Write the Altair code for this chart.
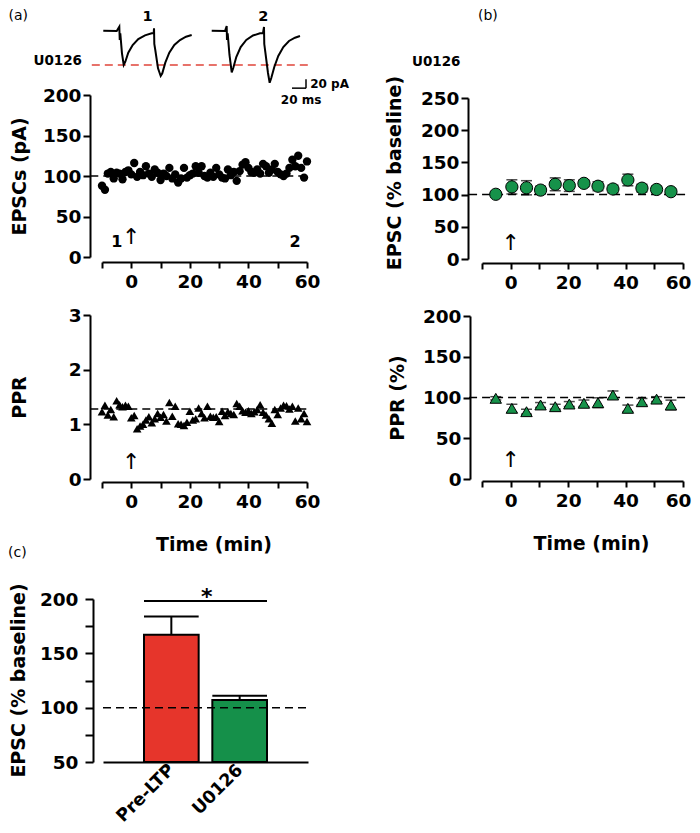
import altair as alt
import pandas as pd

FONT = "DejaVu Sans"

# ---------------- data ----------------
# (a) upper: EPSC amplitude of single sweeps (pA)
a_time = [-10, -9, -8, -7, -6, -5, -4, -3, -2, -1, 0, 1, 2, 3, 4, 5, 6, 7, 8, 9, 10,
          11, 12, 13, 14, 15, 16, 17, 18, 19, 20, 21, 22, 23, 24, 25, 26, 27, 28, 29, 30,
          31, 32, 33, 34, 35, 36, 37, 38, 39, 40, 41, 42, 43, 44, 45, 46, 47, 48, 49, 50,
          51, 52, 53, 54, 55, 56, 57, 58, 59, 60]
a_epsc = [88, 83, 103, 105, 97, 104, 103, 96, 105, 107, 102, 116, 99, 105, 101, 112, 103, 99, 108, 104, 95,
          103, 100, 110, 97, 102, 92, 97, 110, 98, 101, 103, 112, 104, 112, 100, 98, 104, 99, 110, 102,
          98, 97, 108, 101, 105, 94, 106, 114, 117, 110, 105, 104, 108, 103, 115, 112, 104, 108, 115, 105,
          102, 100, 103, 110, 120, 112, 125, 110, 98, 118]
# (a) lower: paired-pulse ratio of single sweeps
a_ppr = [1.23, 1.35, 1.17, 1.27, 1.14, 1.43, 1.36, 1.32, 1.35, 1.33, 1.12, 1.16, 0.92, 0.97, 1.00, 1.08, 1.14, 1.03, 1.10, 1.20, 1.13,
         1.18, 1.06, 1.40, 1.15, 1.33, 1.01, 1.00, 0.98, 1.04, 1.24, 1.08, 1.10, 1.30, 1.20, 1.12, 1.33, 1.15, 1.13, 1.14, 1.05,
         1.24, 1.16, 1.23, 1.20, 1.18, 1.38, 1.33, 1.25, 1.22, 1.25, 1.20, 1.23, 1.27, 1.36, 1.22, 1.17, 1.10, 1.02, 1.27, 1.18,
         1.30, 1.35, 1.34, 1.28, 1.33, 1.06, 1.30, 1.10, 1.20, 1.05]
a_epsc_base = 100
a_ppr_base = 1.28

# example traces (time in ms, current in pA)
trace1_t = [0.4, 19.6, 23.3, 23.9, 24.7, 27.1, 29.6, 31.9, 36.1, 42.4, 50.4, 60.0, 69.6, 72.4, 72.9, 73.3,
            74.7, 78.6, 82.4, 84.7, 89.0, 94.7, 101.9, 110.0, 118.6, 126.7]
trace1_i = [0.7, 0, 9.6, -20, -5.1, -49.6, -75.5, -68.2, -48.2, -31.1, -17.8, -9.6, -5.1, -4.4, 6, -28.9,
            -42.2, -82.9, -100, -94, -70.4, -48.2, -31.1, -20, -12.7, -8.9]
trace2_t = [155.3, 174.3, 176.7, 177.1, 178.1, 180.7, 183.9, 186.1, 190.4, 196.7, 204.7, 214.3, 224.3, 228.6,
            230.0, 230.4, 231.9, 235.7, 238.1, 240.4, 244.7, 250.4, 257.6, 265.7, 274.3, 281.4]
trace2_i = [0.7, 0, 11, -20, -5.1, -53.3, -91.8, -82.2, -57.8, -35.6, -20, -10, -5.1, -4.4,
            8.9, -28.9, -46.7, -93.3, -114.9, -104.4, -80, -55.6, -35.6, -22.2, -14.9, -11.1]
trace_ref_level = -75.5      # red dashed reference (pA)
scalebar_ms = 20
scalebar_pa = 20

# (b) averaged time courses
b_time = [-5.2, 0.4, 5.5, 10.4, 15.5, 20.4, 25.5, 30.4, 35.6, 40.8, 45.7, 50.8, 55.8]
b_epsc = [100.5, 112, 110.6, 107, 116, 114, 117.5, 113, 108.7, 122.7, 110, 108, 104.5]
b_epsc_err = [2, 11, 11, 6, 10, 9, 5, 7, 6, 9, 6, 5, 4]
b_ppr = [99, 86.7, 82.6, 90.8, 88.7, 92, 92.9, 93.6, 103, 86.7, 94.8, 98, 90.8]
b_ppr_err = [2, 5, 3, 3, 3, 3, 4, 6, 5, 4, 4, 3, 6]

# (c) summary bars
c_groups = ["Pre-LTP", "U0126"]
c_pos = [1, 2]
c_mean = [167, 107]
c_sem = [17, 4]
c_colors = ["#e6352b", "#15904a"]

GREEN = "#16924a"
PCT_TITLE = "EPSC (% baseline)"

# ---------------- layout ----------------
W, H = 684, 817
M = 8  # page margin (page coordinates -> chart coordinates)


def S(domain, rng):
    return alt.Scale(domain=domain, range=rng, nice=False, zero=False)


tr_x, tr_y = S([0, 300], [95, 305]), S([-150, 50], [90.5, 0.5])
a1_x, a1_y = S([-10, 60], [94, 299]), S([0, 200], [249, 87])
a2_x, a2_y = S([-10, 60], [94, 299]), S([0, 3], [471, 307])
b1_x, b1_y = S([-10, 60], [474, 675]), S([0, 250], [251, 90])
b2_x, b2_y = S([-10, 60], [474, 675]), S([0, 200], [471, 308])
c_x, c_y = S([0, 3], [95, 300]), S([50, 200], [754, 591])

TIME_TICKS = [-10, 0, 10, 20, 30, 40, 50, 60]
EVEN20 = "datum.value % 20 == 0 ? datum.label : ''"


def xaxis(axis_y, title=None, title_page_x=0, flush=False):
    kw = dict(orient="bottom", offset=axis_y - H, values=TIME_TICKS, labelExpr=EVEN20,
              tickSize=6, labelPadding=4, title=title)
    if flush:
        kw.update(labelFlush=True, labelFlushOffset=8)
    if title:
        kw.update(titleX=title_page_x - M, titleY=62, titleBaseline="middle", titleAlign="center",
                  titleAngle=0, titleLimit=300)
    return alt.Axis(**kw)


def yaxis(axis_x, values, title=None, title_page_x=0, tick=7, pad=2, expr=None):
    kw = dict(orient="left", offset=-axis_x, values=values, title=title, tickSize=tick, labelPadding=pad)
    if title:
        kw.update(titleX=title_page_x - M - axis_x, titleBaseline="middle", titleAlign="center",
                  titleAngle=270, titleLimit=400)
    if expr:
        kw["labelExpr"] = expr
    return alt.Axis(**kw)


class Panel:
    """Scales and axes shared by every layer of one panel."""

    def __init__(self, sx, sy, ax=None, ay=None):
        self.sx, self.sy, self.ax, self.ay = sx, sy, ax, ay

    def X(self, f):
        return alt.X(f, type="quantitative", scale=self.sx, axis=self.ax)

    def Y(self, f):
        return alt.Y(f, type="quantitative", scale=self.sy, axis=self.ay)

    def text(self, df, size=16, weight="bold", align="center", baseline="middle", color="black", angle=0):
        return alt.Chart(df).mark_text(font=FONT, fontSize=size, fontWeight=weight, align=align,
                                       baseline=baseline, color=color, angle=angle, limit=0).encode(
            x=self.X("x"), y=self.Y("y"), text="s:N")

    def hline(self, df, dash=(8, 5), width=1.5, color="black"):
        return alt.Chart(df).mark_rule(strokeDash=list(dash), strokeWidth=width, color=color).encode(
            x=self.X("x0"), x2="x1:Q", y=self.Y("y"))

    def errors(self, df, lo, hi):
        bars = alt.Chart(df).mark_rule(color="black", strokeWidth=1.3).encode(
            x=self.X("t"), y=self.Y(lo), y2=f"{hi}:Q")
        caps = [alt.Chart(df).mark_tick(orient="horizontal", size=11, thickness=1.5, color="black").encode(
            x=self.X("t"), y=self.Y(f)) for f in (lo, hi)]
        return [bars] + caps


# ---------- traces ----------
P = Panel(tr_x, tr_y)
tr_df = pd.DataFrame({
    "t": trace1_t + trace2_t,
    "i": trace1_i + trace2_i,
    "trace": ["1"] * len(trace1_t) + ["2"] * len(trace2_t),
    "k": list(range(len(trace1_t))) + list(range(len(trace2_t))),
})
traces = alt.Chart(tr_df).mark_line(color="black", strokeWidth=2).encode(
    x=P.X("t"), y=P.Y("i"), detail="trace:N", order="k:Q")
ref_line = P.hline(pd.DataFrame({"x0": [-16], "x1": [293], "y": [trace_ref_level]}), color="#e0443a")
bar_x0 = 270
sb = pd.DataFrame({"x0": [bar_x0, bar_x0 + scalebar_ms], "x1": [bar_x0 + scalebar_ms, bar_x0 + scalebar_ms],
                   "y0": [-127, -127], "y1": [-127, -127 + scalebar_pa]})
scalebar = alt.Chart(sb).mark_rule(color="black", strokeWidth=1.5).encode(
    x=P.X("x0"), x2="x1:Q", y=P.Y("y0"), y2="y1:Q")
tr_nums = P.text(pd.DataFrame({"x": [63.6, 229], "y": [23.3, 23.3], "s": ["1", "2"]}), size=14.5, baseline="alphabetic")
tr_sb_pa = P.text(pd.DataFrame({"x": [296], "y": [-118], "s": [f"{scalebar_pa} pA"]}), size=12, align="left")
tr_sb_ms = P.text(pd.DataFrame({"x": [283], "y": [-153], "s": [f"{scalebar_ms} ms"]}), size=12)
tr_drug = P.text(pd.DataFrame({"x": [-30], "y": [-66.7], "s": ["U0126"]}), size=13.5, align="right")
tr_label = P.text(pd.DataFrame({"x": [-135], "y": [33], "s": ["(a)"]}), size=14, weight="normal", align="left")
panel_tr = alt.layer(ref_line, traces, scalebar, tr_nums, tr_sb_pa, tr_sb_ms, tr_drug, tr_label)

# ---------- (a) EPSC ----------
A1 = Panel(a1_x, a1_y, xaxis(254), yaxis(82, [0, 50, 100, 150, 200], "EPSCs (pA)", 19))
a_df = pd.DataFrame({"t": a_time, "v": a_epsc, "p": a_ppr})
a1_base = A1.hline(pd.DataFrame({"x0": [-14], "x1": [61], "y": [a_epsc_base]}))
a1_pts = alt.Chart(a_df).mark_circle(size=70, color="black", opacity=1).encode(x=A1.X("t"), y=A1.Y("v"))
a1_nums = A1.text(pd.DataFrame({"x": [-4.9, 55.9], "y": [12.3, 12.3], "s": ["1", "2"]}), size=16, baseline="alphabetic")
a1_arrow = A1.text(pd.DataFrame({"x": [0], "y": [24.7], "s": ["↑"]}), size=22, weight="normal")
panel_a1 = alt.layer(a1_pts, a1_base, a1_nums, a1_arrow)

# ---------- (a) PPR ----------
A2 = Panel(a2_x, a2_y, xaxis(474, "Time (min)", 213.5), yaxis(82, [0, 1, 2, 3], "PPR", 19))
a2_base = A2.hline(pd.DataFrame({"x0": [-14], "x1": [61], "y": [a_ppr_base]}))
a2_pts = alt.Chart(a_df).mark_point(shape="triangle-up", filled=True, size=75, color="black", opacity=1).encode(
    x=A2.X("t"), y=A2.Y("p"))
a2_arrow = A2.text(pd.DataFrame({"x": [0], "y": [0.31], "s": ["↑"]}), size=22, weight="normal")
panel_a2 = alt.layer(a2_pts, a2_base, a2_arrow)

# ---------- (b) ----------
b_df = pd.DataFrame({"t": b_time, "e": b_epsc, "ee": b_epsc_err, "p": b_ppr, "pe": b_ppr_err})
b_df["e_lo"] = b_df["e"] - b_df["ee"]
b_df["e_hi"] = b_df["e"] + b_df["ee"]
b_df["p_lo"] = b_df["p"] - b_df["pe"]
b_df["p_hi"] = b_df["p"] + b_df["pe"]

B1 = Panel(b1_x, b1_y, xaxis(255, flush=True), yaxis(460, [0, 50, 100, 150, 200, 250]))
b1_base = B1.hline(pd.DataFrame({"x0": [-14.5], "x1": [61], "y": [100]}))
b1_pts = alt.Chart(b_df).mark_point(shape="circle", filled=True, size=150, fill=GREEN, stroke="black",
                                    strokeWidth=1, opacity=1).encode(x=B1.X("t"), y=B1.Y("e"))
b1_arrow = B1.text(pd.DataFrame({"x": [0], "y": [24.8], "s": ["↑"]}), size=22, weight="normal")
b1_drug = B1.text(pd.DataFrame({"x": [-34.4], "y": [306], "s": ["U0126"]}), size=13.5, align="left")
b1_label = B1.text(pd.DataFrame({"x": [-11.4], "y": [377], "s": ["(b)"]}), size=14, weight="normal", align="left")
b1_title = B1.text(pd.DataFrame({"x": [-40.3], "y": [133.5], "s": [PCT_TITLE]}), size=19, angle=270)
panel_b1 = alt.layer(b1_base, *B1.errors(b_df, "e_lo", "e_hi"), b1_pts, b1_arrow, b1_drug, b1_label, b1_title)

B2 = Panel(b2_x, b2_y, xaxis(473, "Time (min)", 591, flush=True),
           yaxis(462, [0, 50, 100, 150, 200], "PPR (%)", 397))
b2_base = B2.hline(pd.DataFrame({"x0": [-14.5], "x1": [61], "y": [100]}))
b2_pts = alt.Chart(b_df).mark_point(shape="triangle-up", filled=True, size=130, fill=GREEN, stroke="black",
                                    strokeWidth=1, opacity=1).encode(x=B2.X("t"), y=B2.Y("p"))
b2_arrow = B2.text(pd.DataFrame({"x": [0], "y": [23], "s": ["↑"]}), size=22, weight="normal")
panel_b2 = alt.layer(b2_base, *B2.errors(b_df, "p_lo", "p_hi"), b2_pts, b2_arrow)

# ---------- (c) ----------
label_expr = " : ".join(f"datum.value == {p} ? '{g}'" for p, g in zip(c_pos, c_groups)) + " : ''"
c_xaxis = alt.Axis(orient="bottom", offset=754 - H, values=c_pos, labelExpr=label_expr, ticks=False,
                   labelAngle=315, labelAlign="right", labelBaseline="middle", labelPadding=5,
                   labelFontSize=17.5, title=None)
c_yaxis = yaxis(85, [50, 75, 100, 125, 150, 175, 200], tick=8, pad=7,
                expr="datum.value % 50 == 0 ? datum.label : ''")
C = Panel(c_x, c_y, c_xaxis, c_yaxis)
half = 0.4
c_df = pd.DataFrame({"g": c_groups, "pos": c_pos, "m": c_mean, "se": c_sem, "col": c_colors})
c_df["x0"] = c_df["pos"] - half
c_df["x1"] = c_df["pos"] + half
c_df["base"] = 50
c_df["top"] = c_df["m"] + c_df["se"]
c_bars = alt.Chart(c_df).mark_bar(stroke="black", strokeWidth=2, opacity=1).encode(
    x=C.X("x0"), x2="x1:Q", y=C.Y("base"), y2="m:Q", color=alt.Color("col:N", scale=None))
c_err = alt.Chart(c_df).mark_rule(color="black", strokeWidth=2).encode(x=C.X("pos"), y=C.Y("m"), y2="top:Q")
c_cap = alt.Chart(c_df).mark_rule(color="black", strokeWidth=2).encode(x=C.X("x0"), x2="x1:Q", y=C.Y("top"))
c_base = C.hline(pd.DataFrame({"x0": [0], "x1": [3], "y": [100]}))
c_sig = C.hline(pd.DataFrame({"x0": [c_pos[0] - half], "x1": [c_pos[1] + half], "y": [198.1]}),
                dash=(1, 0), width=2)
c_star = C.text(pd.DataFrame({"x": [1.52], "y": [195], "s": ["*"]}), size=22, baseline="alphabetic")
c_label = C.text(pd.DataFrame({"x": [-1.39], "y": [242.3], "s": ["(c)"]}), size=14, weight="normal", align="left")
c_title = C.text(pd.DataFrame({"x": [-1.229], "y": [125], "s": [PCT_TITLE]}), size=19, angle=270)
panel_c = alt.layer(c_bars, c_err, c_cap, c_base, c_sig, c_star, c_label, c_title)

chart = alt.layer(panel_tr, panel_a1, panel_a2, panel_b1, panel_b2, panel_c).resolve_scale(
    x="independent", y="independent").resolve_axis(x="independent", y="independent").properties(
    width=W, height=H, padding=0, autosize=alt.AutoSizeParams(type="none")
).configure_view(stroke=None).configure_axis(
    labelFont=FONT, labelFontWeight="bold", labelFontSize=18.5, labelColor="black",
    titleFont=FONT, titleFontWeight="bold", titleFontSize=19, titleColor="black",
    domainColor="black", domainWidth=2, tickColor="black", tickWidth=2, grid=False,
    labelFlush=False, labelOverlap=False)

chart.save("out.html", embed_options={"renderer": "svg", "actions": False})
